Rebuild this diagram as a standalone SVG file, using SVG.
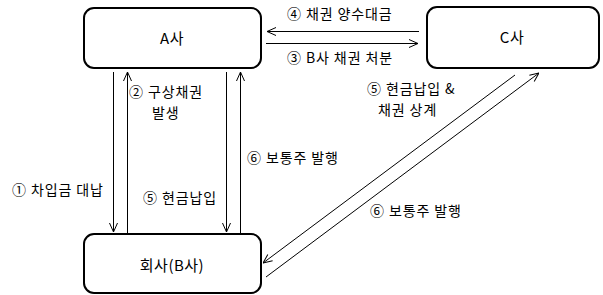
<svg xmlns="http://www.w3.org/2000/svg" width="603" height="295" viewBox="0 0 603 295">
<style>
.box{fill:#fff;stroke:#000;stroke-width:2}
.ln{stroke:#000;stroke-width:1;fill:none}
text{font-family:"Malgun Gothic","Noto Sans CJK KR","Noto Sans",sans-serif;font-size:14px;letter-spacing:0.9px;fill:#000}
.nm{font-size:15px;text-anchor:middle;letter-spacing:0.5px}
</style>
<defs>
<marker id="ah" viewBox="0 0 10 10" refX="10" refY="5" markerWidth="10" markerHeight="10" markerUnits="userSpaceOnUse" orient="auto">
<path d="M1,1 L10,5 L1,9" fill="none" stroke="#000" stroke-width="1"/>
</marker>
</defs>
<rect width="603" height="295" fill="#fff"/>
<g id="nodeA"><rect class="box" x="84" y="8" width="177" height="60" rx="10"/><text class="nm" x="172" y="44">A사</text></g>
<g id="nodeC"><rect class="box" x="427" y="7" width="172" height="61" rx="10"/><text class="nm" x="512" y="43">C사</text></g>
<g id="nodeB"><rect class="box" x="84" y="234" width="177" height="59" rx="10"/><text class="nm" x="172" y="271">회사(B사)</text></g>
<g id="connectors">
<line class="ln" x1="113.5" y1="72" x2="113.5" y2="232" marker-end="url(#ah)"/>
<line class="ln" x1="127.5" y1="233" x2="127.5" y2="72" marker-end="url(#ah)"/>
<line class="ln" x1="226.5" y1="72" x2="226.5" y2="232" marker-end="url(#ah)"/>
<line class="ln" x1="240.5" y1="233" x2="240.5" y2="72" marker-end="url(#ah)"/>
<line class="ln" x1="419" y1="31.5" x2="267" y2="31.5" marker-end="url(#ah)"/>
<line class="ln" x1="266" y1="43.5" x2="418" y2="43.5" marker-end="url(#ah)"/>
<line class="ln" x1="515" y1="75" x2="263" y2="263" marker-end="url(#ah)"/>
<line class="ln" x1="266" y1="277" x2="539" y2="73" marker-end="url(#ah)"/>
</g>
<g id="labels">
<text x="287" y="19">④ 채권 양수대금</text>
<text x="287" y="63">③ B사 채권 처분</text>
<text x="129" y="97">② 구상채권</text>
<text x="152" y="118">발생</text>
<text x="367" y="94">⑤ 현금납입 &amp;</text>
<text x="378" y="115">채권 상계</text>
<text x="247" y="163">⑥ 보통주 발행</text>
<text x="12" y="195">① 차입금 대납</text>
<text x="143" y="203">⑤ 현금납입</text>
<text x="370" y="216">⑥ 보통주 발행</text>
</g>
</svg>
